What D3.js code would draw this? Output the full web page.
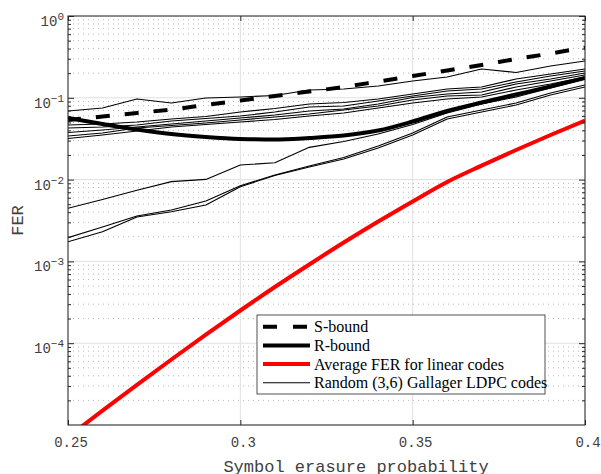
<!DOCTYPE html>
<html>
<head>
<meta charset="utf-8">
<script src="https://cdn.jsdelivr.net/npm/d3@7/dist/d3.min.js"></script>
<style>
  body { margin: 0; background: #fff; }
  svg { display: block; }
</style>
</head>
<body>
<svg id="chart" width="601" height="474"></svg>
<script>
// Symbol erasure probability (x values shared by every curve)
const erasureProb = [0.25, 0.26, 0.27, 0.28, 0.29, 0.30, 0.31, 0.32,
                     0.33, 0.34, 0.35, 0.36, 0.37, 0.38, 0.39, 0.40];

// S-bound (dashed)
const sBound = [0.0535, 0.0591, 0.0652, 0.0719, 0.0817, 0.0927, 0.1052, 0.1194,
                0.1355, 0.1582, 0.1847, 0.2157, 0.2518, 0.2980, 0.3479, 0.4120];

// R-bound (thick solid)
const rBound = [0.0566, 0.0478, 0.0410, 0.0361, 0.0332, 0.0314, 0.0309, 0.0323,
                0.0346, 0.0398, 0.0513, 0.0690, 0.0876, 0.1097, 0.1374, 0.1746];

// Average FER over the ensemble of linear codes
const avgLinear = [7.13e-6, 1.50e-5, 3.10e-5, 6.32e-5, 1.27e-4, 2.51e-4, 4.86e-4, 9.17e-4,
                   1.70e-3, 3.07e-3, 5.41e-3, 9.35e-3, 1.48e-2, 2.30e-2, 3.51e-2, 5.28e-2];

// Simulated FER of individual random (3,6) Gallager LDPC codes
const ldpcA = [0.0690, 0.0750, 0.0967, 0.0864, 0.0994, 0.1023, 0.1067, 0.1246,
               0.1281, 0.1394, 0.1605, 0.1796, 0.2250, 0.2039, 0.2447, 0.2818];
const ldpcB = [0.0465, 0.0478, 0.0506, 0.0551, 0.0591, 0.0670, 0.0740, 0.0840,
               0.0876, 0.0967, 0.1113, 0.1281, 0.1355, 0.1698, 0.1954, 0.2250];
const ldpcC = [0.0427, 0.0440, 0.0465, 0.0521, 0.0558, 0.0599, 0.0670, 0.0772,
               0.0794, 0.0914, 0.1052, 0.1211, 0.1281, 0.1560, 0.1848, 0.2127];
const ldpcD = [0.0376, 0.0404, 0.0440, 0.0478, 0.0521, 0.0566, 0.0616, 0.0690,
               0.0729, 0.0840, 0.1008, 0.1113, 0.1178, 0.1475, 0.1698, 0.2010];
const ldpcE = [0.0341, 0.0371, 0.0427, 0.0458, 0.0492, 0.0535, 0.0583, 0.0634,
               0.0709, 0.0794, 0.0940, 0.1052, 0.1082, 0.1355, 0.1605, 0.1900];
const ldpcF = [0.0318, 0.0351, 0.0393, 0.0440, 0.0472, 0.0506, 0.0543, 0.0599,
               0.0652, 0.0750, 0.0864, 0.0967, 0.1023, 0.1246, 0.1475, 0.1796];
const ldpcG = [0.00446, 0.00571, 0.00741, 0.00945, 0.01006, 0.01509, 0.01609, 0.0248,
               0.0292, 0.0361, 0.0472, 0.0652, 0.0840, 0.1023, 0.1318, 0.1698];
const ldpcH = [0.00195, 0.00263, 0.00359, 0.00425, 0.00547, 0.00841, 0.01138, 0.01467,
               0.0186, 0.0258, 0.0371, 0.0583, 0.0709, 0.0864, 0.1145, 0.1434];
const ldpcI = [0.00174, 0.00231, 0.00349, 0.00405, 0.00489, 0.00818, 0.01122, 0.01427,
               0.01786, 0.0243, 0.0351, 0.0551, 0.0670, 0.0816, 0.1082, 0.1355];
const ldpcCodes = [ldpcA, ldpcB, ldpcC, ldpcD, ldpcE, ldpcF, ldpcG, ldpcH, ldpcI];

// Axis ticks
const xTicks = [0.25, 0.30, 0.35, 0.40];
const xTickLabels = ["0.25", "0.3", "0.35", "0.4"];
const yDecades = [0, -1, -2, -3, -4];

const legendLabels = ["S-bound", "R-bound", "Average FER for linear codes",
                      "Random (3,6) Gallager LDPC codes"];

const svg = d3.select("#chart");
const plot = { left: 68, right: 585, top: 16, bottom: 425 };

const x = d3.scaleLinear().domain([0.25, 0.40]).range([plot.left, plot.right]);
const y = d3.scaleLog().domain([1e-5, 1]).range([plot.bottom, plot.top]);

// Minor values for the log axis: 2..9 times each decade
const minorY = [];
for (let e = -5; e < 0; e++) {
  for (let m = 2; m <= 9; m++) minorY.push(m * Math.pow(10, e));
}

const grid = svg.append("g");
// dotted minor horizontal grid
grid.selectAll(".minor").data(minorY).join("line")
  .attr("x1", plot.left).attr("x2", plot.right)
  .attr("y1", d => y(d)).attr("y2", d => y(d))
  .attr("stroke", "#b8b8b8").attr("stroke-width", 1)
  .attr("stroke-dasharray", "1,4");
// solid major grid
grid.selectAll(".majY").data(yDecades.map(e => Math.pow(10, e)).concat([1e-5])).join("line")
  .attr("x1", plot.left).attr("x2", plot.right)
  .attr("y1", d => y(d)).attr("y2", d => y(d))
  .attr("stroke", "#e0e0e0").attr("stroke-width", 1);
grid.selectAll(".majX").data(xTicks).join("line")
  .attr("x1", d => x(d)).attr("x2", d => x(d))
  .attr("y1", plot.top).attr("y2", plot.bottom)
  .attr("stroke", "#e0e0e0").attr("stroke-width", 1);

// Curves
svg.append("clipPath").attr("id", "plotClip").append("rect")
  .attr("x", plot.left).attr("y", plot.top)
  .attr("width", plot.right - plot.left).attr("height", plot.bottom - plot.top);

const line = d3.line().x((d, i) => x(erasureProb[i])).y(d => y(d));
const curveLine = d3.line().x((d, i) => x(erasureProb[i])).y(d => y(d)).curve(d3.curveMonotoneX);

const curves = svg.append("g").attr("clip-path", "url(#plotClip)");
curves.selectAll(".ldpc").data(ldpcCodes).join("path")
  .attr("d", d => line(d))
  .attr("fill", "none").attr("stroke", "#000").attr("stroke-width", 1.1)
  .attr("stroke-linejoin", "round");
curves.append("path").attr("d", curveLine(avgLinear))
  .attr("fill", "none").attr("stroke", "#ff0000").attr("stroke-width", 4);
curves.append("path").attr("d", curveLine(rBound))
  .attr("fill", "none").attr("stroke", "#000").attr("stroke-width", 4);
curves.append("path").attr("d", curveLine(sBound))
  .attr("fill", "none").attr("stroke", "#000").attr("stroke-width", 4)
  .attr("stroke-dasharray", "14,15").attr("stroke-dashoffset", -28);

// Axes frame and inward ticks
const axisColor = "#262626";
const axes = svg.append("g").attr("stroke", axisColor).attr("fill", "none");
axes.append("rect")
  .attr("x", plot.left).attr("y", plot.top)
  .attr("width", plot.right - plot.left).attr("height", plot.bottom - plot.top)
  .attr("stroke-width", 1);

const bottomAxis = d3.axisBottom(x).tickValues(xTicks).tickSizeInner(-5).tickSizeOuter(0).tickFormat("");
const topAxis = d3.axisTop(x).tickValues(xTicks).tickSizeInner(-5).tickSizeOuter(0).tickFormat("");
const leftMajor = d3.axisLeft(y).tickValues(yDecades.map(e => Math.pow(10, e))).tickSizeInner(-6).tickSizeOuter(0).tickFormat("");
const rightMajor = d3.axisRight(y).tickValues(yDecades.map(e => Math.pow(10, e))).tickSizeInner(-6).tickSizeOuter(0).tickFormat("");
const leftMinor = d3.axisLeft(y).tickValues(minorY).tickSizeInner(-3).tickSizeOuter(0).tickFormat("");
const rightMinor = d3.axisRight(y).tickValues(minorY).tickSizeInner(-3).tickSizeOuter(0).tickFormat("");

function styleAxis(g) {
  g.select(".domain").remove();
  g.selectAll("line").attr("stroke", axisColor);
}
svg.append("g").attr("transform", `translate(0,${plot.bottom})`).call(bottomAxis).call(styleAxis);
svg.append("g").attr("transform", `translate(0,${plot.top})`).call(topAxis).call(styleAxis);
svg.append("g").attr("transform", `translate(${plot.left},0)`).call(leftMajor).call(styleAxis);
svg.append("g").attr("transform", `translate(${plot.right},0)`).call(rightMajor).call(styleAxis);
svg.append("g").attr("transform", `translate(${plot.left},0)`).call(leftMinor).call(styleAxis);
svg.append("g").attr("transform", `translate(${plot.right},0)`).call(rightMinor).call(styleAxis);

// Tick labels
const mono = "'Liberation Mono', 'DejaVu Sans Mono', monospace";
const labelColor = "#404040";
svg.append("g").selectAll("text").data(xTicks).join("text")
  .attr("x", d => x(d) + 3).attr("y", 447)
  .attr("text-anchor", "middle")
  .attr("font-family", mono).attr("font-size", 14).attr("fill", labelColor)
  .text((d, i) => xTickLabels[i]);

const yl = svg.append("g").selectAll("text").data(yDecades).join("text")
  .attr("x", 64).attr("y", d => y(Math.pow(10, d)) + 10)
  .attr("text-anchor", "end")
  .attr("font-family", mono).attr("font-size", 14).attr("fill", labelColor);
yl.append("tspan").text("10");
yl.append("tspan").attr("font-size", 11).attr("dy", -6).text(d => String(d).replace("-", "\u2212"));

// Axis titles
svg.append("text")
  .attr("x", 356).attr("y", 472).attr("text-anchor", "middle")
  .attr("font-family", mono).attr("font-size", 17).attr("fill", labelColor)
  .text("Symbol erasure probability");
svg.append("text")
  .attr("transform", `translate(23,${(plot.top + plot.bottom) / 2}) rotate(-90)`)
  .attr("text-anchor", "middle")
  .attr("font-family", mono).attr("font-size", 17).attr("fill", labelColor)
  .text("FER");

// Legend
const legend = svg.append("g");
legend.append("rect")
  .attr("x", 257).attr("y", 315).attr("width", 288).attr("height", 79)
  .attr("fill", "#fff").attr("stroke", axisColor).attr("stroke-width", 0.8);
const legendStyles = [
  { color: "#000", width: 4, dash: "14,16" },
  { color: "#000", width: 4, dash: null },
  { color: "#ff0000", width: 4, dash: null },
  { color: "#000", width: 1.1, dash: null }
];
const rowY = [326.7, 345.5, 364, 382.7];
legendLabels.forEach((label, i) => {
  const s = legendStyles[i];
  legend.append("line")
    .attr("x1", 263).attr("x2", 310).attr("y1", rowY[i]).attr("y2", rowY[i])
    .attr("stroke", s.color).attr("stroke-width", s.width)
    .attr("stroke-dasharray", s.dash);
  legend.append("text")
    .attr("x", 314).attr("y", rowY[i] + 5.5)
    .attr("font-family", "'Liberation Serif', 'Times New Roman', serif")
    .attr("font-size", 16).attr("fill", "#000")
    .text(label);
});
</script>
</body>
</html>
